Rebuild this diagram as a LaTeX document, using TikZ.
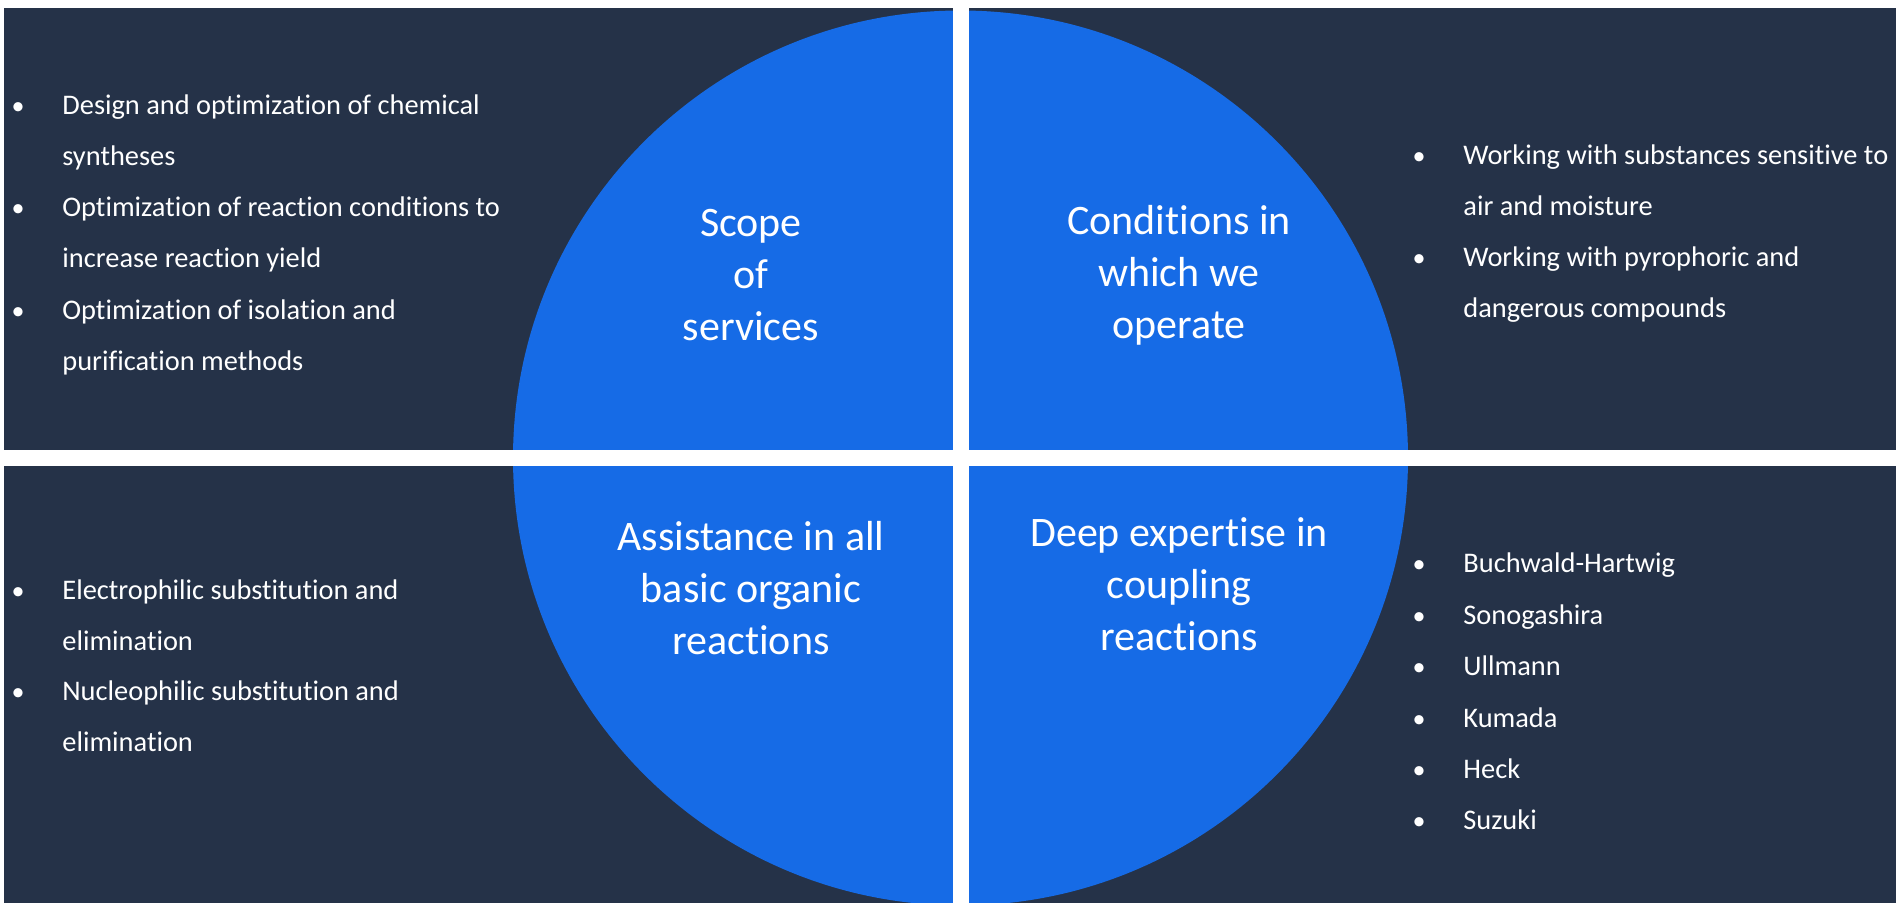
\documentclass[tikz,border=0pt]{standalone}
\usepackage{fontspec}
\setmainfont{Carlito}[Ligatures=NoCommon]
\usepackage{tikz}
\definecolor{panelnavy}{HTML}{253248}
\definecolor{discblue}{HTML}{166BE6}
\tikzstyle{panel}=[fill=panelnavy]
\tikzstyle{gap}=[fill=white]
\tikzstyle{quarter_title}=[text=white,align=center,inner sep=0pt,font=\fontsize{21}{26}\selectfont]
\tikzstyle{item}=[text=white,align=left,anchor=base west,inner sep=0pt,font=\fontsize{14.2}{25.5}\selectfont]
\tikzstyle{bullet}=[text=white,anchor=base,inner sep=0pt,font=\fontsize{13}{25.5}\selectfont]
\newcommand{\discradius}{223.75pt}
\newcommand{\leftcol}{62}
\newcommand{\rightcol}{1463}

\begin{document}
\begin{tikzpicture}[x=0.5pt,y=-0.5pt]
  \useasboundingbox (0,0) rectangle (1896,903);
  \fill[white] (0,0) rectangle (1896,903);

  % four dark panels
  \fill[panel] (4,8) rectangle (958,450);
  \fill[panel] (964,8) rectangle (1896,450);
  \fill[panel] (4,466) rectangle (958,903);
  \fill[panel] (964,466) rectangle (1896,903);

  % the disc, cut in quarters
  \fill[discblue] (960.5,458) circle (\discradius);
  \fill[gap] (953,0) rectangle (969,903);
  \fill[gap] (0,450) rectangle (1896,466);

  \node[quarter_title] (scope) at (751,275) {Scope\\of\\services};
  \node[quarter_title] (cond) at (1179,275) {Conditions in\\which we\\operate};
  \node[quarter_title] (assist) at (751,588) {Assistance in all\\basic organic\\reactions};
  \node[quarter_title] (coupl) at (1179,584) {Deep expertise in\\coupling\\reactions};

  % scope of services (item nodes sit on their last line)
  \node[bullet] (b1) at (18,115) {•};
  \node[item] (s1) at (\leftcol,166) {Design and optimization of chemical\\syntheses};
  \node[bullet] (b2) at (18,217) {•};
  \node[item] (s2) at (\leftcol,268) {Optimization of reaction conditions to\\increase reaction yield};
  \node[bullet] (b3) at (18,320) {•};
  \node[item] (s3) at (\leftcol,371) {Optimization of isolation and\\purification methods};

  % conditions
  \node[bullet] (b4) at (1419,165) {•};
  \node[item] (c1) at (\rightcol,216) {Working with substances sensitive to\\air and moisture};
  \node[bullet] (b5) at (1419,267) {•};
  \node[item] (c2) at (\rightcol,318) {Working with pyrophoric and\\dangerous compounds};

  % basic reactions
  \node[bullet] (b6) at (18,599) {•};
  \node[item] (a1) at (\leftcol,650) {Electrophilic substitution and\\elimination};
  \node[bullet] (b7) at (18,700) {•};
  \node[item] (a2) at (\leftcol,751) {Nucleophilic substitution and\\elimination};

  % coupling reactions
  \node[bullet] (b8) at (1419,573) {•};
  \node[item] (r1) at (\rightcol,573) {Buchwald-Hartwig};
  \node[bullet] (b9) at (1419,624) {•};
  \node[item] (r2) at (\rightcol,624) {Sonogashira};
  \node[bullet] (b10) at (1419,675) {•};
  \node[item] (r3) at (\rightcol,675) {Ullmann};
  \node[bullet] (b11) at (1419,727) {•};
  \node[item] (r4) at (\rightcol,727) {Kumada};
  \node[bullet] (b12) at (1419,778) {•};
  \node[item] (r5) at (\rightcol,778) {Heck};
  \node[bullet] (b13) at (1419,829) {•};
  \node[item] (r6) at (\rightcol,829) {Suzuki};
\end{tikzpicture}
\end{document}
